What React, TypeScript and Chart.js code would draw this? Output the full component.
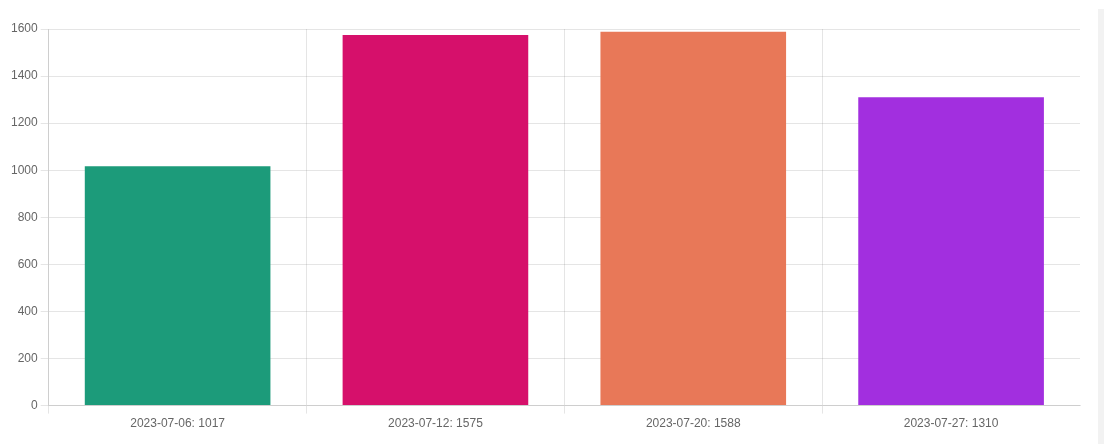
import React, { useEffect, useRef } from "react";
import { Chart, registerables } from "chart.js";

Chart.register(...registerables);

const categories = ["2023-07-06: 1017", "2023-07-12: 1575", "2023-07-20: 1588", "2023-07-27: 1310"];
const values = [1017, 1575, 1588, 1310];
const barColors = ["#1c9b7a", "#d6106b", "#e87858", "#a22fdf"];
const seriesLabel = "Entries";

export default function App() {
  const ref = useRef<HTMLCanvasElement | null>(null);
  useEffect(() => {
    if (!ref.current) return;
    const chart = new Chart(ref.current, {
      type: "bar",
      data: {
        labels: categories,
        datasets: [
          {
            label: seriesLabel,
            data: values,
            backgroundColor: barColors,
            borderWidth: 0,
          },
        ],
      },
      options: {
        animation: false,
        responsive: false,
        maintainAspectRatio: false,
        layout: { padding: { top: 29, right: 18, left: 8, bottom: 10 } },
        plugins: { legend: { display: false }, tooltip: { enabled: false } },
        scales: {
          x: {
            grid: {
              color: (ctx: any) => (ctx.type !== "tick" ? "rgba(0,0,0,0)" : "rgba(0,0,0,0.1)"),
            },
            ticks: { color: "#666", font: { family: "'Liberation Sans', Arial, sans-serif", size: 12 } },
          },
          y: {
            min: 0,
            max: 1600,
            ticks: {
              stepSize: 200,
              color: "#666",
              font: { family: "'Liberation Sans', Arial, sans-serif", size: 12 },
              callback: (v: any) => String(v),
            },
            grid: { color: "rgba(0,0,0,0.1)" },
          },
        },
      },
    });
    return () => chart.destroy();
  }, []);
  return (
    <div style={{ position: "absolute", left: 0, top: 0, width: 1104, height: 444, background: "#fff" }}>
      <canvas ref={ref} width={1098} height={444} style={{ display: "block" }} />
      <div style={{ position: "absolute", left: 1098, top: 9, width: 6, height: 435, background: "#f2f2f2" }} />
    </div>
  );
}
